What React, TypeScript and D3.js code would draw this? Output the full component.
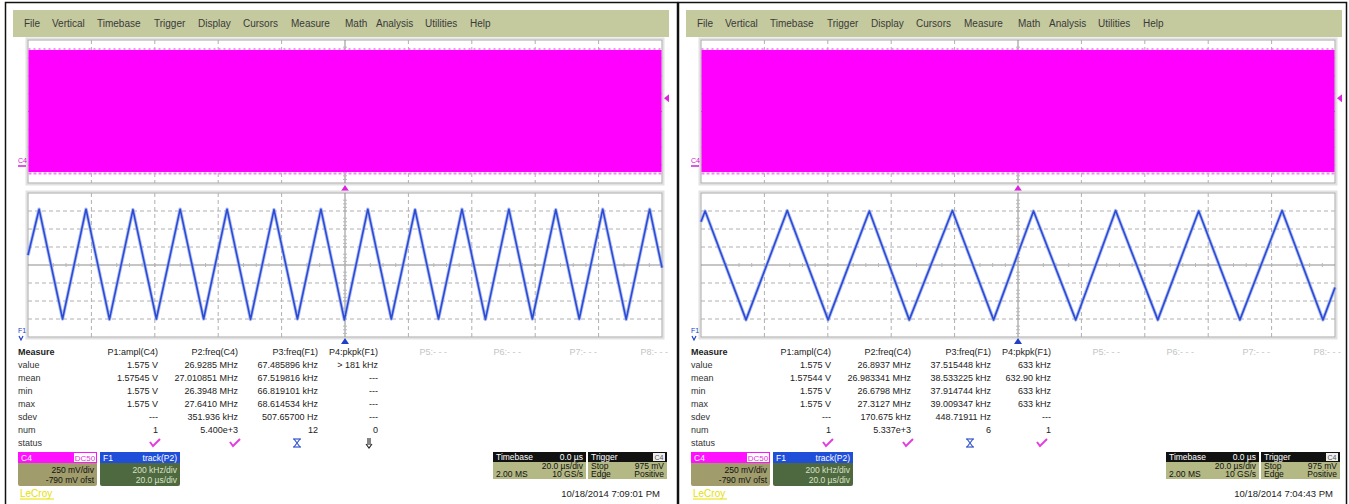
import React from 'react';
import * as d3 from 'd3';

// ---------- data ----------
const MENU_ITEMS = ["File", "Vertical", "Timebase", "Trigger", "Display", "Cursors", "Measure", "Math", "Analysis", "Utilities", "Help"];
const MENU_X = [24, 52, 97, 154, 198, 243, 291, 345, 376, 425, 470];

const ROW_LABELS = ["value", "mean", "min", "max", "sdev", "num", "status"];
const HEADERS = ["P1:ampl(C4)", "P2:freq(C4)", "P3:freq(F1)", "P4:pkpk(F1)"];
const EMPTY_HEADERS = ["P5:- - -", "P6:- - -", "P7:- - -", "P8:- - -"];

const LEFT_P1 = ["1.575 V", "1.57545 V", "1.575 V", "1.575 V", "---", "1"];
const LEFT_P2 = ["26.9285 MHz", "27.010851 MHz", "26.3948 MHz", "27.6410 MHz", "351.936 kHz", "5.400e+3"];
const LEFT_P3 = ["67.485896 kHz", "67.519816 kHz", "66.819101 kHz", "68.614534 kHz", "507.65700 Hz", "12"];
const LEFT_P4 = ["> 181 kHz", "---", "---", "---", "---", "0"];
const LEFT_STATUS = ["check", "check", "hourglass", "down"];

const RIGHT_P1 = ["1.575 V", "1.57544 V", "1.575 V", "1.575 V", "---", "1"];
const RIGHT_P2 = ["26.8937 MHz", "26.983341 MHz", "26.6798 MHz", "27.3127 MHz", "170.675 kHz", "5.337e+3"];
const RIGHT_P3 = ["37.515448 kHz", "38.533225 kHz", "37.914744 kHz", "39.009347 kHz", "448.71911 Hz", "6"];
const RIGHT_P4 = ["633 kHz", "632.90 kHz", "633 kHz", "633 kHz", "---", "1"];
const RIGHT_STATUS = ["check", "check", "hourglass", "check"];

// F1 track waveform (time in µs, value in kHz relative to screen centre)
const LEFT_T = [-100, -96.5, -89.1, -81.7, -74.3, -66.9, -59.5, -52.0, -44.6, -37.2, -29.8, -22.4, -15.0, -7.6, -0.2, 7.2, 14.6, 22.1, 29.5, 36.9, 44.3, 51.7, 59.1, 66.5, 73.9, 81.3, 88.7, 96.1, 100];
const LEFT_V = [110, 620, -600, 620, -605, 615, -600, 620, -600, 620, -605, 615, -600, 620, -610, 620, -600, 615, -600, 620, -605, 620, -600, 615, -600, 620, -605, 620, -30];

const RIGHT_T = [-100, -98.7, -85.8, -72.8, -59.9, -46.9, -34.3, -20.7, -7.7, 4.9, 18.2, 30.8, 44.1, 57.0, 70.0, 83.3, 96.2, 100];
const RIGHT_V = [480, 600, -610, 605, -610, 600, -610, 605, -610, 600, -610, 605, -610, 600, -610, 605, -610, -250];

// C4 envelope (mV)
const C4_BAND = [-56, 1650];
const TRIG_LEVEL = 975;

const LEFT_DATE = "10/18/2014 7:09:01 PM";
const RIGHT_DATE = "10/18/2014 7:04:43 PM";

const FONT = "'Liberation Sans', Arial, sans-serif";

// ---------- components ----------
function Grid({ x0, x1, y0, y1 }: { x0: number; x1: number; y0: number; y1: number }) {
  const xs = d3.range(1, 10).map(i => x0 + (i * (x1 - x0)) / 10);
  const ys = d3.range(1, 8).map(i => y0 + (i * (y1 - y0)) / 8);
  const cx = (x0 + x1) / 2;
  const cy = (y0 + y1) / 2;
  const minorX = d3.range(1, 50).map(i => x0 + (i * (x1 - x0)) / 50);
  const minorY = d3.range(1, 40).map(i => y0 + (i * (y1 - y0)) / 40);
  return (
    <g>
      <rect x={x0 - 1.5} y={y0 - 1.5} width={x1 - x0 + 3} height={y1 - y0 + 3} fill="none" stroke="#e2e2e2" strokeWidth={2} />
      <rect x={x0} y={y0} width={x1 - x0} height={y1 - y0} fill="#fff" stroke="#a8a8a8" strokeWidth={1} />
      {xs.map((x, i) =>
        i === 4 ? null : <line key={'v' + i} x1={x} x2={x} y1={y0} y2={y1} stroke="#b0b0b0" strokeDasharray="4,3" />
      )}
      {ys.map((y, i) =>
        i === 3 ? null : <line key={'h' + i} x1={x0} x2={x1} y1={y} y2={y} stroke="#b0b0b0" strokeDasharray="4,3" />
      )}
      <line x1={cx} x2={cx} y1={y0} y2={y1} stroke="#8c8c8c" />
      <line x1={x0} x2={x1} y1={cy} y2={cy} stroke="#8c8c8c" />
      {minorX.map((x, i) => (i % 5 === 0 ? null : <line key={'mx' + i} x1={x} x2={x} y1={cy - 2} y2={cy + 2} stroke="#b8b8b8" />))}
      {minorY.map((y, i) => (i % 5 === 0 ? null : <line key={'my' + i} x1={cx - 2} x2={cx + 2} y1={y} y2={y} stroke="#b8b8b8" />))}
    </g>
  );
}

function Check({ x, y }: { x: number; y: number }) {
  return <path d={`M${x - 5},${y - 1} L${x - 2},${y + 3} L${x + 5},${y - 4}`} fill="none" stroke="#e23ee0" strokeWidth={2} />;
}
function Hourglass({ x, y }: { x: number; y: number }) {
  return (
    <g stroke="#3355cc" strokeWidth={1.2} fill="none">
      <line x1={x - 4} x2={x + 4} y1={y - 4} y2={y - 4} />
      <line x1={x - 4} x2={x + 4} y1={y + 4} y2={y + 4} />
      <path d={`M${x - 3},${y - 4} L${x + 3},${y + 4} M${x + 3},${y - 4} L${x - 3},${y + 4}`} />
    </g>
  );
}
function Down({ x, y }: { x: number; y: number }) {
  return (
    <g stroke="#222" strokeWidth={1.1} fill="none">
      <line x1={x - 1} x2={x - 1} y1={y - 5} y2={y + 2} />
      <line x1={x + 1} x2={x + 1} y1={y - 5} y2={y + 2} />
      <path d={`M${x - 3},${y + 1} L${x},${y + 5} L${x + 3},${y + 1}`} />
    </g>
  );
}

type PanelProps = {
  ox: number;
  cols: string[][];
  status: string[];
  T: number[];
  V: number[];
  date: string;
};

function Panel({ ox, cols, status, T, V, date }: PanelProps) {
  const gx0 = ox + 28, gx1 = ox + 662;
  const xS = d3.scaleLinear().domain([-100, 100]).range([gx0, gx1]);
  const yF = d3.scaleLinear().domain([-800, 800]).range([337, 193]);
  const yC = d3.scaleLinear().domain([-210, 1790]).range([183, 40]);
  const line = d3.line<number>().x((_, i) => xS(T[i])).y(d => yF(d));
  const path = line(V) || '';
  const cx = xS(0);
  const rowsY = [352, 365, 378, 391, 404, 417, 430, 443];
  const colRight = [158, 238, 318, 378].map(v => v + ox);
  const emptyRight = [447, 521, 597, 668].map(v => v + ox);
  const statusX = [155, 235, 297, 369].map(v => v + ox);

  return (
    <g fontFamily={FONT}>
      {/* menu bar */}
      <rect x={ox + 13} y={10} width={656} height={27} fill="#c4c99e" />
      {MENU_ITEMS.map((m, i) => (
        <text key={m} x={ox + MENU_X[i]} y={27} fontSize={10} fill="#3a3a3a">{m}</text>
      ))}

      {/* C4 grid */}
      <Grid x0={gx0} x1={gx1} y0={40} y1={183} />
      <rect x={gx0 + 0.5} y={yC(C4_BAND[1])} width={gx1 - gx0 - 1} height={yC(C4_BAND[0]) - yC(C4_BAND[1])} fill="#ff00ff" />
      <line x1={gx0 + 0.5} x2={gx1 - 0.5} y1={yC(C4_BAND[0]) + 1.5} y2={yC(C4_BAND[0]) + 1.5} stroke="#ff7fff" strokeWidth={2} strokeDasharray="3,2" />
      <line x1={gx0 + 0.5} x2={gx1 - 0.5} y1={yC(C4_BAND[1]) - 1} y2={yC(C4_BAND[1]) - 1} stroke="#ff66ff" strokeWidth={1.5} strokeDasharray="2,3" />
      {/* trigger level marker */}
      <path d={`M${gx1 + 7},${yC(TRIG_LEVEL) - 4} L${gx1 + 2},${yC(TRIG_LEVEL)} L${gx1 + 7},${yC(TRIG_LEVEL) + 4} Z`} fill="#e020e0" />
      {/* trigger position marker */}
      <path d={`M${cx - 4},${191} L${cx},${185} L${cx + 4},${191} Z`} fill="#e020e0" />
      <text x={ox + 18} y={163} fontSize={7} fill="#d020d0">C4</text>
      <line x1={ox + 18} x2={ox + 26} y1={166} y2={166} stroke="#d020d0" strokeWidth={1.5} />

      {/* F1 grid */}
      <Grid x0={gx0} x1={gx1} y0={193} y1={337} />
      <path d={path} fill="none" stroke="#8ea2f0" strokeWidth={3.4} strokeOpacity={0.7} strokeLinejoin="round" />
      <path d={path} fill="none" stroke="#2b4bd4" strokeWidth={1.6} strokeLinejoin="round" />
      <path d={`M${cx - 4},${344} L${cx},${338} L${cx + 4},${344} Z`} fill="#2040c8" />
      <text x={ox + 18} y={333} fontSize={7} fill="#2040c8">F1</text>
      <path d={`M${ox + 19},${336} L${ox + 21},${340} L${ox + 23},${336}`} fill="none" stroke="#2040c8" strokeWidth={1.2} />

      {/* measure table */}
      <text x={ox + 18} y={rowsY[0] + 3} fontSize={9} fontWeight="bold" fill="#222">Measure</text>
      {ROW_LABELS.map((r, i) => (
        <text key={r} x={ox + 18} y={rowsY[i + 1] + 3} fontSize={9} fill="#333">{r}</text>
      ))}
      {HEADERS.map((h, j) => (
        <text key={h} x={colRight[j]} y={rowsY[0] + 3} fontSize={9} fill="#222" textAnchor="end">{h}</text>
      ))}
      {EMPTY_HEADERS.map((h, j) => (
        <text key={h} x={emptyRight[j]} y={rowsY[0] + 3} fontSize={9} fill="#c4c4c4" textAnchor="end">{h}</text>
      ))}
      {cols.map((col, j) =>
        col.map((v, i) => (
          <text key={j + '-' + i} x={colRight[j]} y={rowsY[i + 1] + 3} fontSize={9} fill="#222" textAnchor="end">{v}</text>
        ))
      )}
      {status.map((s, j) => {
        const x = statusX[j], y = rowsY[7];
        if (s === 'check') return <Check key={'s' + j} x={x} y={y} />;
        if (s === 'hourglass') return <Hourglass key={'s' + j} x={x} y={y} />;
        return <Down key={'s' + j} x={x} y={y} />;
      })}

      {/* C4 descriptor */}
      <rect x={ox + 18} y={452} width={79} height={34} rx={2} fill="#a09c6c" />
      <rect x={ox + 18} y={452} width={79} height={11} fill="#ff10ff" />
      <text x={ox + 21} y={461} fontSize={8.5} fill="#fff">C4</text>
      <rect x={ox + 74} y={453} width={22} height={9} fill="#fff" />
      <text x={ox + 85} y={461} fontSize={8} fill="#e030e0" textAnchor="middle">DC50</text>
      <text x={ox + 94} y={473} fontSize={8.5} fill="#111" textAnchor="end">250 mV/div</text>
      <text x={ox + 94} y={483} fontSize={8.5} fill="#111" textAnchor="end">-790 mV ofst</text>

      {/* F1 descriptor */}
      <rect x={ox + 100} y={452} width={80} height={34} rx={2} fill="#4e6840" />
      <rect x={ox + 100} y={452} width={80} height={11} fill="#1f4fd8" />
      <text x={ox + 103} y={461} fontSize={8.5} fill="#fff">F1</text>
      <text x={ox + 177} y={461} fontSize={8.5} fill="#fff" textAnchor="end">track(P2)</text>
      <text x={ox + 177} y={473} fontSize={8.5} fill="#d8e2c4" textAnchor="end">200 kHz/div</text>
      <text x={ox + 177} y={483} fontSize={8.5} fill="#d8e2c4" textAnchor="end">20.0 µs/div</text>

      <text x={ox + 20} y={497} fontSize={10} fill="#e6e000">LeCroy</text>
      <line x1={ox + 20} x2={ox + 54} y1={499} y2={499} stroke="#e6e000" />

      {/* timebase */}
      <rect x={ox + 493} y={452} width={93} height={27} fill="#b3b884" />
      <rect x={ox + 493} y={452} width={93} height={10} fill="#111" />
      <text x={ox + 496} y={460} fontSize={8.5} fill="#fff">Timebase</text>
      <text x={ox + 583} y={460} fontSize={8.5} fill="#fff" textAnchor="end">0.0 µs</text>
      <text x={ox + 583} y={469} fontSize={8.5} fill="#111" textAnchor="end">20.0 µs/div</text>
      <text x={ox + 496} y={477} fontSize={8.5} fill="#111">2.00 MS</text>
      <text x={ox + 583} y={477} fontSize={8.5} fill="#111" textAnchor="end">10 GS/s</text>

      {/* trigger */}
      <rect x={ox + 588} y={452} width={79} height={27} fill="#b3b884" />
      <rect x={ox + 588} y={452} width={79} height={10} fill="#111" />
      <text x={ox + 591} y={460} fontSize={8.5} fill="#fff">Trigger</text>
      <rect x={ox + 653} y={453} width={12} height={8} fill="#eee" />
      <text x={ox + 659} y={460} fontSize={7} fill="#555" textAnchor="middle">C4</text>
      <text x={ox + 591} y={469} fontSize={8.5} fill="#111">Stop</text>
      <text x={ox + 664} y={469} fontSize={8.5} fill="#111" textAnchor="end">975 mV</text>
      <text x={ox + 591} y={477} fontSize={8.5} fill="#111">Edge</text>
      <text x={ox + 664} y={477} fontSize={8.5} fill="#111" textAnchor="end">Positive</text>

      <text x={ox + 660} y={497} fontSize={9.5} fill="#222" textAnchor="end">{date}</text>
    </g>
  );
}

export default function App() {
  return (
    <svg width={1349} height={504} style={{ position: 'absolute', left: 0, top: 0, background: '#fff' }}>
      <rect x={0} y={0} width={1349} height={504} fill="#fff" />
      <rect x={5.5} y={2.5} width={672} height={503} fill="none" stroke="#111" strokeWidth={1.5} />
      <rect x={678.5} y={2.5} width={668} height={503} fill="none" stroke="#111" strokeWidth={1.5} />
      <Panel ox={0} cols={[LEFT_P1, LEFT_P2, LEFT_P3, LEFT_P4]} status={LEFT_STATUS} T={LEFT_T} V={LEFT_V} date={LEFT_DATE} />
      <Panel ox={673} cols={[RIGHT_P1, RIGHT_P2, RIGHT_P3, RIGHT_P4]} status={RIGHT_STATUS} T={RIGHT_T} V={RIGHT_V} date={RIGHT_DATE} />
    </svg>
  );
}
